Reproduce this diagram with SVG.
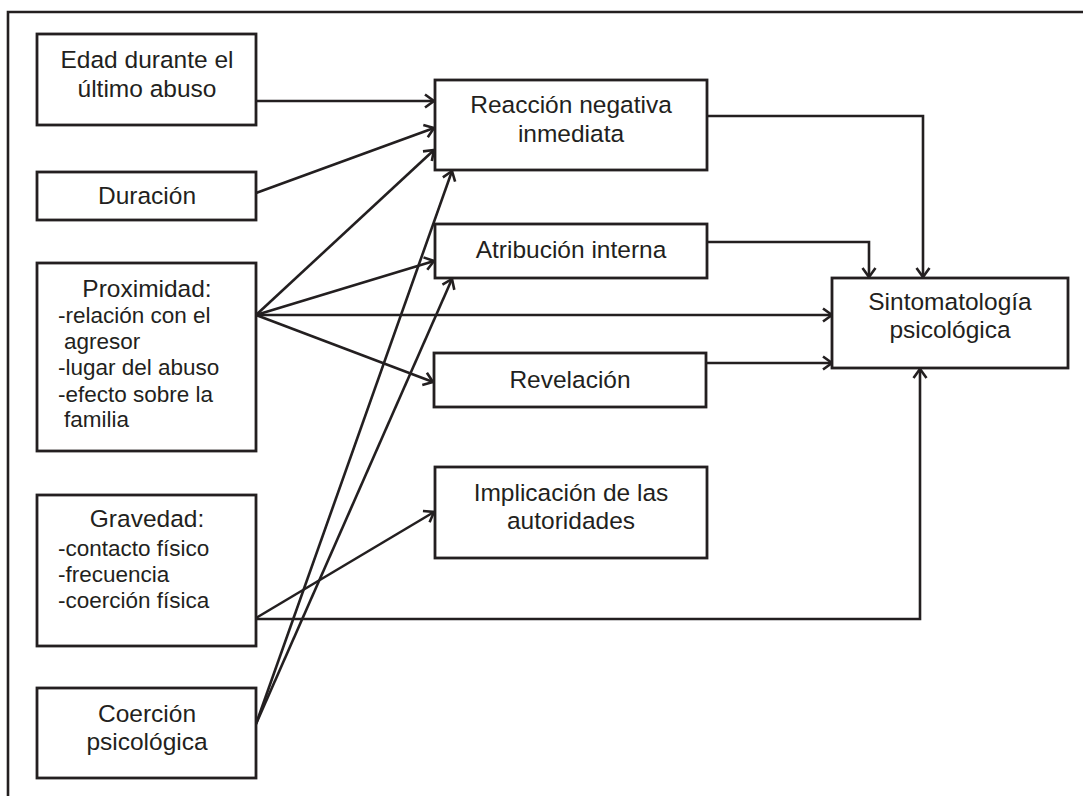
<svg xmlns="http://www.w3.org/2000/svg" width="1083" height="796" viewBox="0 0 1083 796">
  <style>
    .box { fill: #ffffff; stroke: #231f20; stroke-width: 2.8; }
    .edge { fill: none; stroke: #231f20; stroke-width: 2.6; marker-end: url(#arr); }
    .frame { fill: none; stroke: #231f20; stroke-width: 2.6; }
    text { font-family: "Liberation Sans", Arial, sans-serif; fill: #231f20; }
    .lbl { font-size: 24.5px; text-anchor: middle; }
    .item { font-size: 22.5px; }
  </style>
  <defs>
    <marker id="arr" markerUnits="userSpaceOnUse" markerWidth="24" markerHeight="24" viewBox="-12 -12 24 24" refX="0" refY="0" orient="auto" overflow="visible">
      <path d="M-9,-6.5 L0,0 L-9,6.5" fill="none" stroke="#231f20" stroke-width="2.6"/>
    </marker>
  </defs>

  <rect width="1083" height="796" fill="#ffffff"/>
  <!-- outer frame: left and top sides only -->
  <path class="frame" d="M8,796 L8,12 L1083,12"/>

  <!-- connectors -->
  <g id="connectors">
    <path class="edge" d="M256,101 L434,101"/>
    <path class="edge" d="M256,193 L434,128"/>
    <path class="edge" d="M256,315 L434,150"/>
    <path class="edge" d="M256,315 L434,261"/>
    <path class="edge" d="M256,315 L832,315"/>
    <path class="edge" d="M256,315 L433,382"/>
    <path class="edge" d="M256,618 L434,512"/>
    <path class="edge" d="M256,619 L920,619 L920,369"/>
    <path class="edge" d="M256,724 L452,171"/>
    <path class="edge" d="M256,724 L452,279"/>
    <path class="edge" d="M707,116 L923,116 L923,277"/>
    <path class="edge" d="M707,242 L869,242 L869,277"/>
    <path class="edge" d="M706,363 L832,363"/>
  </g>

  <!-- predictor nodes -->
  <g id="edad">
    <rect class="box" x="37" y="34" width="219" height="91"/>
    <text class="lbl" x="147" y="68">Edad durante el</text>
    <text class="lbl" x="147" y="97">último abuso</text>
  </g>
  <g id="duracion">
    <rect class="box" x="37" y="172" width="219" height="48"/>
    <text class="lbl" x="147" y="204">Duración</text>
  </g>
  <g id="proximidad">
    <rect class="box" x="37" y="263" width="219" height="188"/>
    <text class="lbl" x="147" y="297">Proximidad:</text>
    <text class="item" x="58" y="323">-relación con el</text>
    <text class="item" x="64" y="349">agresor</text>
    <text class="item" x="58" y="375">-lugar del abuso</text>
    <text class="item" x="58" y="402">-efecto sobre la</text>
    <text class="item" x="64" y="427">familia</text>
  </g>
  <g id="gravedad">
    <rect class="box" x="37" y="495" width="219" height="151"/>
    <text class="lbl" x="147" y="527">Gravedad:</text>
    <text class="item" x="58" y="556">-contacto físico</text>
    <text class="item" x="58" y="582">-frecuencia</text>
    <text class="item" x="58" y="608">-coerción física</text>
  </g>
  <g id="coercion">
    <rect class="box" x="37" y="688" width="219" height="90"/>
    <text class="lbl" x="147" y="722">Coerción</text>
    <text class="lbl" x="147" y="750">psicológica</text>
  </g>

  <!-- mediator nodes -->
  <g id="reaccion">
    <rect class="box" x="435" y="80" width="272" height="90"/>
    <text class="lbl" x="571" y="113">Reacción negativa</text>
    <text class="lbl" x="571" y="142">inmediata</text>
  </g>
  <g id="atribucion">
    <rect class="box" x="435" y="224" width="272" height="54"/>
    <text class="lbl" x="571" y="258">Atribución interna</text>
  </g>
  <g id="revelacion">
    <rect class="box" x="434" y="353" width="272" height="54"/>
    <text class="lbl" x="570" y="388">Revelación</text>
  </g>
  <g id="implicacion">
    <rect class="box" x="435" y="467" width="272" height="91"/>
    <text class="lbl" x="571" y="501">Implicación de las</text>
    <text class="lbl" x="571" y="529">autoridades</text>
  </g>

  <!-- outcome node -->
  <g id="sintomatologia">
    <rect class="box" x="832" y="278" width="236" height="90"/>
    <text class="lbl" x="950" y="310">Sintomatología</text>
    <text class="lbl" x="950" y="338">psicológica</text>
  </g>
</svg>
